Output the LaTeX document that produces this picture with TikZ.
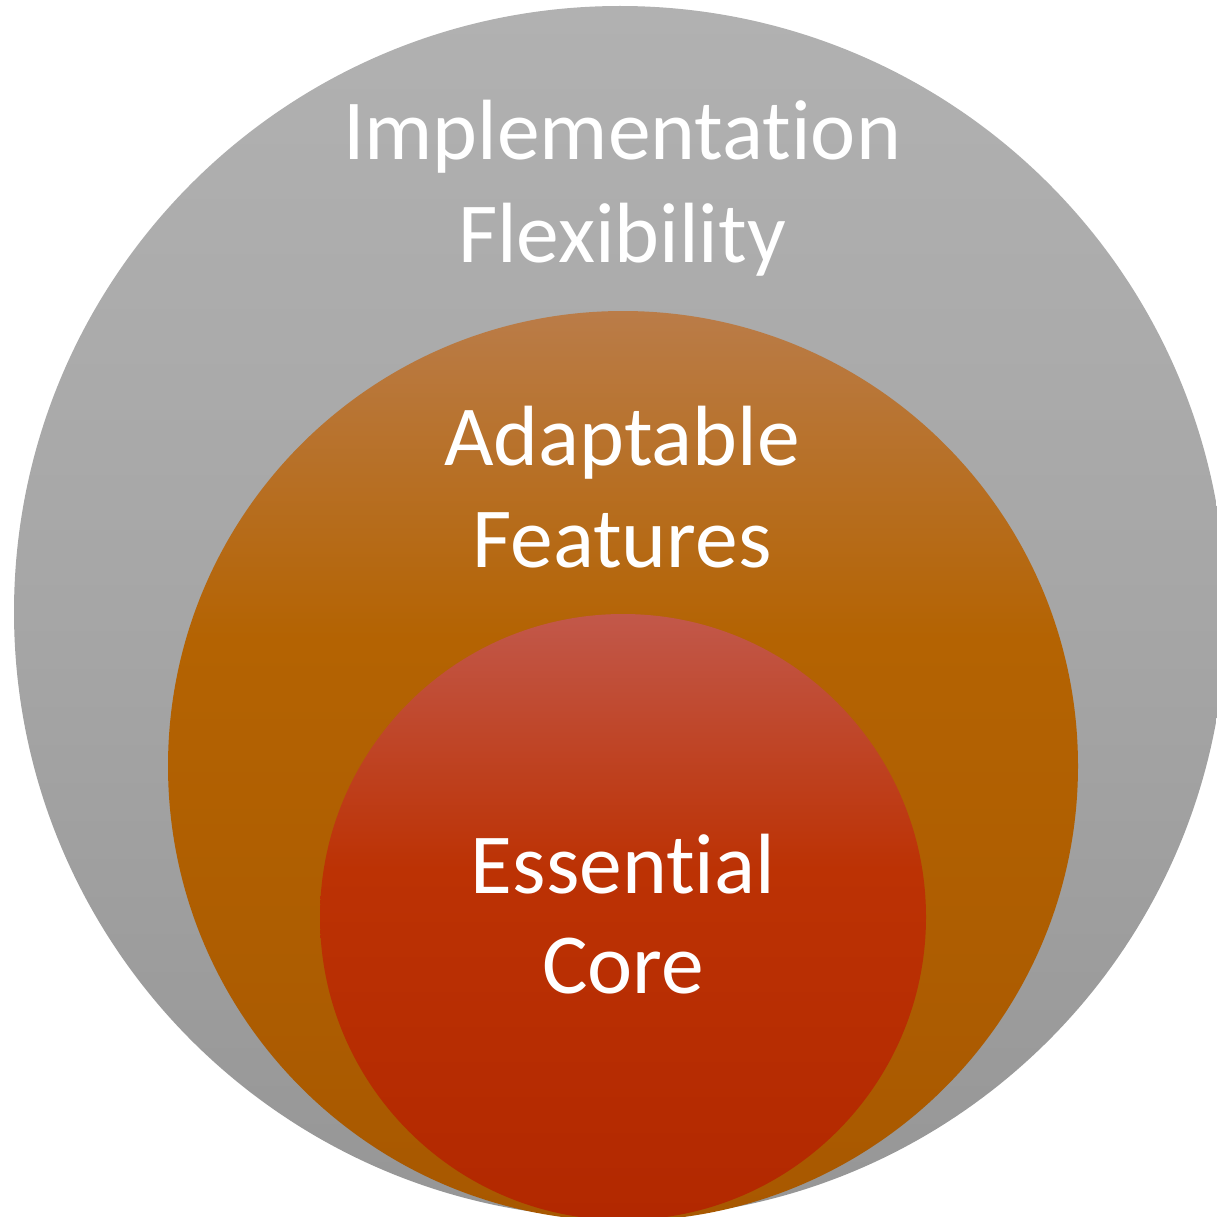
\documentclass[tikz,border=0pt]{standalone}
\usepackage{fontspec}
\setmainfont{Carlito}[Ligatures=NoCommon]
\definecolor{gTop}{RGB}{177,177,177}
\definecolor{gMid}{RGB}{166,166,166}
\definecolor{gBot}{RGB}{150,150,150}
\definecolor{oTop}{RGB}{186,124,72}
\definecolor{oMid}{RGB}{180,99,2}
\definecolor{oBot}{RGB}{168,88,0}
\definecolor{rTop}{RGB}{194,88,74}
\definecolor{rMid}{RGB}{188,50,4}
\definecolor{rBot}{RGB}{178,40,0}
\pgfdeclareverticalshading{grayfill}{100bp}{color(0bp)=(gBot); color(25bp)=(gBot); color(50bp)=(gMid); color(75bp)=(gTop); color(100bp)=(gTop)}
\pgfdeclareverticalshading{orangefill}{100bp}{color(0bp)=(oBot); color(25bp)=(oBot); color(57bp)=(oMid); color(75bp)=(oTop); color(100bp)=(oTop)}
\pgfdeclareverticalshading{redfill}{100bp}{color(0bp)=(rBot); color(25bp)=(rBot); color(54bp)=(rMid); color(75bp)=(rTop); color(100bp)=(rTop)}
\begin{document}
\begin{tikzpicture}[x=1pt,y=-1pt,
  lbl/.style={text=white,font=\fontsize{85.5}{100}\selectfont,align=center,inner sep=0pt,anchor=base}]
\useasboundingbox (0,0) rectangle (1217,1217);
\clip (0,0) rectangle (1217,1217);
\shade[shading=grayfill] (620,612) circle[radius=606];
\shade[shading=orangefill] (623,766) circle[radius=455];
\shade[shading=redfill] (623,917) circle[radius=303];
\node[lbl] (t1) at (622,160) {Implementation};
\node[lbl] (t2) at (622,262) {Flexibility};
\node[lbl] (t3) at (622,465) {Adaptable};
\node[lbl] (t4) at (622,567) {Features};
\node[lbl] (t5) at (623,893) {Essential};
\node[lbl] (t6) at (623,993) {Core};
\end{tikzpicture}
\end{document}
